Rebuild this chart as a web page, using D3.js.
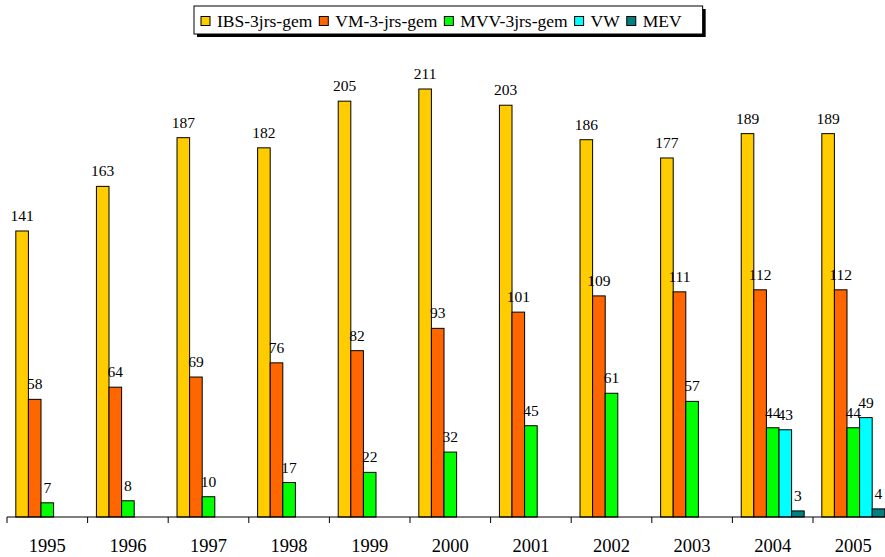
<!DOCTYPE html>
<html>
<head>
<meta charset="utf-8">
<script src="https://cdn.jsdelivr.net/npm/d3@7"></script>
<style>
  html, body { margin: 0; padding: 0; background: #fff; }
  svg { display: block; }
  text { font-family: "Liberation Serif", "Times New Roman", Times, serif; fill: #000; }
</style>
</head>
<body>
<svg id="chart" width="885" height="557"></svg>
<script>
const years = ["1995","1996","1997","1998","1999","2000","2001","2002","2003","2004","2005"];
const seriesNames = ["IBS-3jrs-gem","VM-3-jrs-gem","MVV-3jrs-gem","VW","MEV"];
const seriesColors = ["#FFCC00","#FF6600","#00FF00","#00FFFF","#008080"];
const ibs = [141,163,187,182,205,211,203,186,177,189,189];
const vm  = [58,64,69,76,82,93,101,109,111,112,112];
const mvv = [7,8,10,17,22,32,45,61,57,44,44];
const vw  = [null,null,null,null,null,null,null,null,null,43,49];
const mev = [null,null,null,null,null,null,null,null,null,3,4];
const seriesValues = [ibs, vm, mvv, vw, mev];

const svg = d3.select("#chart");
const x0 = 7, step = 80.6;
const axisY = 517;

const x = d3.scaleBand().domain(years).range([x0, x0 + step * years.length]).paddingInner(0).paddingOuter(0);
const xs = d3.scaleBand().domain(seriesNames).range([0, x.bandwidth()]).paddingInner(0).paddingOuter(0.7);
const y = d3.scaleLinear().domain([0, 211]).range([axisY, axisY - 428]);

const g = svg.append("g");
seriesNames.forEach((name, si) => {
  const vals = seriesValues[si];
  years.forEach((yr, i) => {
    const v = vals[i];
    if (v == null) return;
    const bx = x(yr) + xs(name);
    g.append("rect")
      .attr("x", bx).attr("y", y(v))
      .attr("width", xs.bandwidth()).attr("height", axisY - y(v))
      .attr("fill", seriesColors[si]).attr("stroke", "#000").attr("stroke-width", 1);
    g.append("text")
      .attr("x", bx + xs.bandwidth() / 2).attr("y", y(v) - 10)
      .attr("text-anchor", "middle").attr("font-size", 15.5)
      .text(v);
  });
});

// axis
const ax = svg.append("g").attr("transform", `translate(0,${axisY})`);
ax.append("line").attr("x1", x0).attr("x2", 885).attr("y1", 0).attr("y2", 0).attr("stroke", "#000").attr("stroke-width", 1.2);
years.forEach((yr) => {
  ax.append("line").attr("x1", x(yr)).attr("x2", x(yr)).attr("y1", 0).attr("y2", 6).attr("stroke", "#000");
});
years.forEach((yr) => {
  ax.append("text").attr("x", x(yr) + x.bandwidth() / 2).attr("y", 35)
    .attr("text-anchor", "middle").attr("font-size", 18.5).text(yr);
});

// legend
const lg = svg.append("g");
const lx = 194, ly = 6, lh = 28;
const shadow = lg.append("rect").attr("x", lx + 3).attr("y", ly + 3).attr("height", lh).attr("fill", "#000");
const box = lg.append("rect").attr("x", lx).attr("y", ly).attr("height", lh).attr("fill", "#fff").attr("stroke", "#000").attr("stroke-width", 1);
let cx = 201;
seriesNames.forEach((name, si) => {
  lg.append("rect").attr("x", cx).attr("y", 16.5).attr("width", 9).attr("height", 9)
    .attr("fill", seriesColors[si]).attr("stroke", "#000");
  const t = lg.append("text").attr("x", cx + 16).attr("y", 26.5).attr("font-size", 17.5).text(name);
  cx = cx + 16 + t.node().getComputedTextLength() + 7;
});
const lw = cx - lx + 14;
shadow.attr("width", lw);
box.attr("width", lw);
</script>
</body>
</html>
